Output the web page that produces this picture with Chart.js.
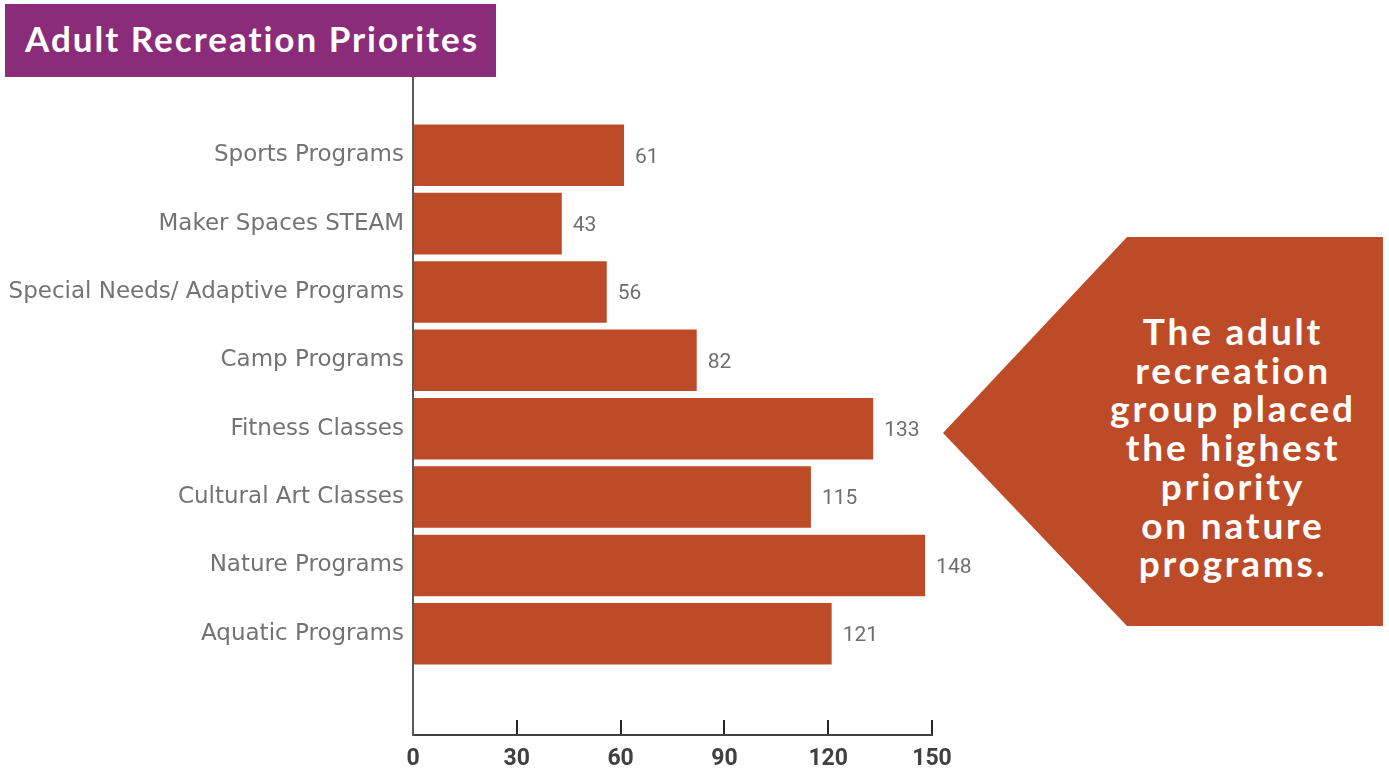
<!DOCTYPE html>
<html>
<head>
<meta charset="utf-8">
<title>Adult Recreation Priorites</title>
<script src="https://cdn.jsdelivr.net/npm/chart.js@4.4.0/dist/chart.umd.min.js"></script>
<style>
    html, body { margin: 0; padding: 0; background: #fff; width: 1389px; height: 769px; overflow: hidden; }
    #wrap { position: relative; width: 1389px; height: 769px; }
    #chart { position: absolute; left: 0; top: 0; }
    .title {
        position: absolute; left: 5px; top: 4px; width: 491px; height: 73px;
        background: #8B2C7A; color: #fff; box-sizing: border-box; padding-left: 20px;
        font: bold 35px Lato, sans-serif; line-height: 68px; white-space: nowrap; letter-spacing: 2px;
    }
    .callout {
        position: absolute; left: 943px; top: 237px; width: 440px; height: 389px;
        background: #BD4B27;
        clip-path: polygon(0 50.4%, 184px 0, 100% 0, 100% 100%, 184px 100%);
    }
    .callout p {
        position: absolute; left: 90px; width: 400px; top: 75px; margin: 0;
        text-align: center; color: #fff; white-space: nowrap;
        font: bold 37px Lato, sans-serif; line-height: 38.7px; letter-spacing: 2.8px;
    }
</style>
</head>
<body>
<div id="wrap">
    <canvas id="chart" width="1389" height="769"></canvas>
    <div class="title">Adult Recreation Priorites</div>
    <div class="callout"><p>The adult<br>recreation<br>group placed<br>the highest<br>priority<br>on nature<br>programs.</p></div>
</div>
<script>
// Chart data
const categories = [
    'Sports Programs',
    'Maker Spaces STEAM',
    'Special Needs/ Adaptive Programs',
    'Camp Programs',
    'Fitness Classes',
    'Cultural Art Classes',
    'Nature Programs',
    'Aquatic Programs'
];
const scores = [61, 43, 56, 82, 133, 115, 148, 121];
const xTicks = [0, 30, 60, 90, 120, 150];

// value labels to the right of each bar
const valueLabels = {
    id: 'valueLabels',
    afterDatasetsDraw(chart) {
        const ctx = chart.ctx;
        const meta = chart.getDatasetMeta(0);
        ctx.save();
        ctx.font = '21px Roboto';
        ctx.fillStyle = '#6e6e6e';
        ctx.textAlign = 'left';
        ctx.textBaseline = 'middle';
        meta.data.forEach((bar, i) => {
            ctx.fillText(String(scores[i]), bar.x + 11, bar.y + 2);
        });
        ctx.restore();
    }
};

const ctx = document.getElementById('chart').getContext('2d');
new Chart(ctx, {
    type: 'bar',
    data: {
        datasets: [{
            data: scores.map((v, i) => ({ x: v, y: i })),
            backgroundColor: '#BD4B27',
            barPercentage: 0.9,
            categoryPercentage: 1
        }]
    },
    plugins: [valueLabels],
    options: {
        indexAxis: 'y',
        responsive: false,
        animation: false,
        layout: { padding: { top: 78, right: 457, left: 0, bottom: 0 } },
        plugins: {
            legend: { display: false },
            tooltip: { enabled: false }
        },
        scales: {
            x: {
                type: 'linear',
                min: 0,
                max: 150,
                afterBuildTicks: axis => { axis.ticks = xTicks.map(v => ({ value: v })); },
                afterFit: axis => { axis.height = 34; },
                grid: { drawOnChartArea: false, drawTicks: true, tickLength: -15, color: '#262626', lineWidth: 2 },
                border: { display: true, color: '#404040', width: 2 },
                ticks: { color: '#404040', padding: 25, font: { family: 'Roboto', size: 23, weight: 'bold' } }
            },
            y: {
                type: 'linear',
                reverse: true,
                offset: false,
                min: -1.13,
                max: 8.48,
                afterBuildTicks: axis => { axis.ticks = categories.map((_, i) => ({ value: i })); },
                afterFit: axis => { axis.width = 413; },
                grid: { display: false, drawTicks: false, offset: false },
                border: { display: true, color: '#595959', width: 2 },
                ticks: {
                    color: '#737373',
                    padding: 9,
                    font: { family: 'DejaVu Sans', size: 23 },
                    callback: v => categories[v] ?? ''
                }
            }
        }
    }
});
</script>
</body>
</html>
